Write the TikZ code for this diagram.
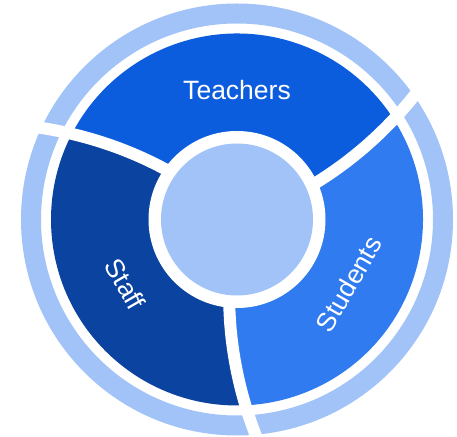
\documentclass[tikz,border=0pt]{standalone}
\usepackage{fontspec}
\setmainfont{Liberation Sans}
\definecolor{teachblue}{HTML}{0C5DDE}
\definecolor{staffblue}{HTML}{0A43A0}
\definecolor{studblue}{HTML}{317BF1}
\definecolor{lightblue}{HTML}{A2C3F8}
\newcommand\spk{0.0775}
\newcommand\ringseg[3]{%
  \fill[#1] plot[domain=88:186,samples=30] ({#2+\spk*(\x-88)}:\x)
    arc[start angle={#2+\spk*98}, end angle={#3+\spk*98}, radius=186]
    -- plot[domain=186:88,samples=30] ({#3+\spk*(\x-88)}:\x)
    arc[start angle={#3}, end angle={#2}, radius=88] -- cycle;}
\tikzset{
  divider/.style={draw=white, line width=12pt},
  lbl/.style={text=white, font=\fontsize{26.5}{31}\selectfont, inner sep=0pt}
}
\begin{document}
\begin{tikzpicture}[x=1pt,y=1pt]
\useasboundingbox (0,0) rectangle (457,436);
\fill[white] (0,0) rectangle (457,436);
\begin{scope}[shift={(237,216.5)}]
  % outer light ring
  \fill[lightblue, even odd rule] (0,0) circle[radius=216] (0,0) circle[radius=196];
  % coloured segments
  \ringseg{teachblue}{145}{25}
  \ringseg{studblue}{25}{-95}
  \ringseg{staffblue}{265}{145}
  % white ring round the centre
  \fill[white] (0,0) circle[radius=88.5];
  % spiral dividers
  \foreach \b in {25,145,265}
    \draw[divider] plot[domain=82:224,samples=40] ({\b+\spk*(\x-88)}:\x);
  % centre disk
  \fill[lightblue] (0,0) circle[radius=76];
  % labels
  \node[lbl] (teachers) at (90:129) {Teachers};
  \node[lbl, rotate=60] (students) at (-30:129) {Students};
  \node[lbl, rotate=-60] (staff) at (210:129) {Staff};
\end{scope}
\end{tikzpicture}
\end{document}
